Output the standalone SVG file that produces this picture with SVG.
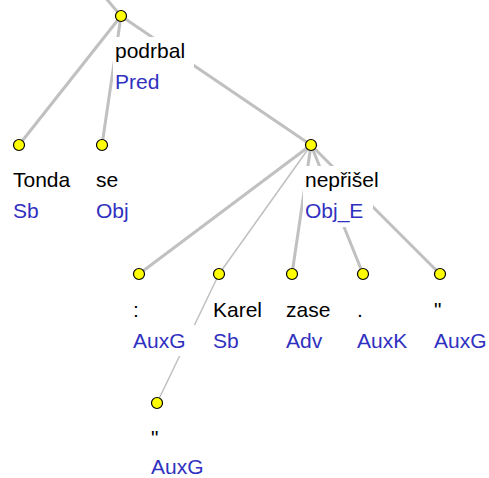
<svg xmlns="http://www.w3.org/2000/svg" width="489" height="478" viewBox="0 0 489 478">
<style>
.e{stroke:#c0c0c0;stroke-width:3;fill:none;stroke-linecap:butt}
.t{stroke:#c0c0c0;stroke-width:1.5;fill:none}
.n{fill:#ffff00;stroke:#000;stroke-width:1.2}
.bg{fill:#fff}
text{font-family:"Liberation Sans",Arial,sans-serif;font-size:21px}
.w{fill:#000}
.f{fill:#3030c0}
</style>
<rect width="489" height="478" fill="#fff"/>
<g id="connectors">
<line class="e" x1="104" y1="-4" x2="121" y2="16"/>
<line class="e" x1="121" y1="16" x2="19" y2="145"/>
<line class="e" x1="121" y1="16" x2="102" y2="145"/>
<line class="e" x1="121" y1="16" x2="311" y2="145"/>
<line class="e" x1="311" y1="145" x2="139" y2="274"/>
<line class="t" x1="311" y1="145" x2="219" y2="274"/>
<line class="e" x1="311" y1="145" x2="292" y2="274"/>
<line class="e" x1="311" y1="145" x2="363" y2="274"/>
<line class="e" x1="311" y1="145" x2="440" y2="274"/>
<line class="t" x1="219" y1="274" x2="157" y2="403"/>
</g>
<g id="n-podrbal">
<rect class="bg" x="113" y="37" width="81" height="30"/>
<rect class="bg" x="113" y="67" width="52" height="29"/>
<circle class="n" cx="121" cy="16" r="5.5"/>
<text class="w" x="115" y="58">podrbal</text>
<text class="f" x="115" y="89">Pred</text>
</g>
<g id="n-tonda">
<circle class="n" cx="19" cy="145" r="5.5"/>
<text class="w" x="13" y="187">Tonda</text>
<text class="f" x="13" y="218">Sb</text>
</g>
<g id="n-se">
<circle class="n" cx="102" cy="145" r="5.5"/>
<text class="w" x="96" y="187">se</text>
<text class="f" x="96" y="218">Obj</text>
</g>
<g id="n-neprisel">
<rect class="bg" x="303" y="166" width="82" height="31"/>
<rect class="bg" x="303" y="197" width="70" height="30"/>
<circle class="n" cx="311" cy="145" r="5.5"/>
<text class="w" x="305" y="187">nepřišel</text>
<text class="f" x="305" y="218">Obj_E</text>
</g>
<g id="n-colon">
<rect class="bg" x="131" y="295" width="10" height="30"/>
<rect class="bg" x="131" y="325" width="64" height="31"/>
<circle class="n" cx="139" cy="274" r="5.5"/>
<text class="w" x="133" y="317">:</text>
<text class="f" x="133" y="348">AuxG</text>
</g>
<g id="n-karel">
<circle class="n" cx="219" cy="274" r="5.5"/>
<text class="w" x="213" y="317">Karel</text>
<text class="f" x="213" y="348">Sb</text>
</g>
<g id="n-zase">
<circle class="n" cx="292" cy="274" r="5.5"/>
<text class="w" x="286" y="317">zase</text>
<text class="f" x="286" y="348">Adv</text>
</g>
<g id="n-dot">
<circle class="n" cx="363" cy="274" r="5.5"/>
<text class="w" x="357" y="317">.</text>
<text class="f" x="357" y="348">AuxK</text>
</g>
<g id="n-quote1">
<circle class="n" cx="440" cy="274" r="5.5"/>
<text class="w" x="434" y="317">&quot;</text>
<text class="f" x="434" y="348">AuxG</text>
</g>
<g id="n-quote2">
<circle class="n" cx="157" cy="403" r="5.5"/>
<text class="w" x="151" y="445">&quot;</text>
<text class="f" x="151" y="474">AuxG</text>
</g>
</svg>
